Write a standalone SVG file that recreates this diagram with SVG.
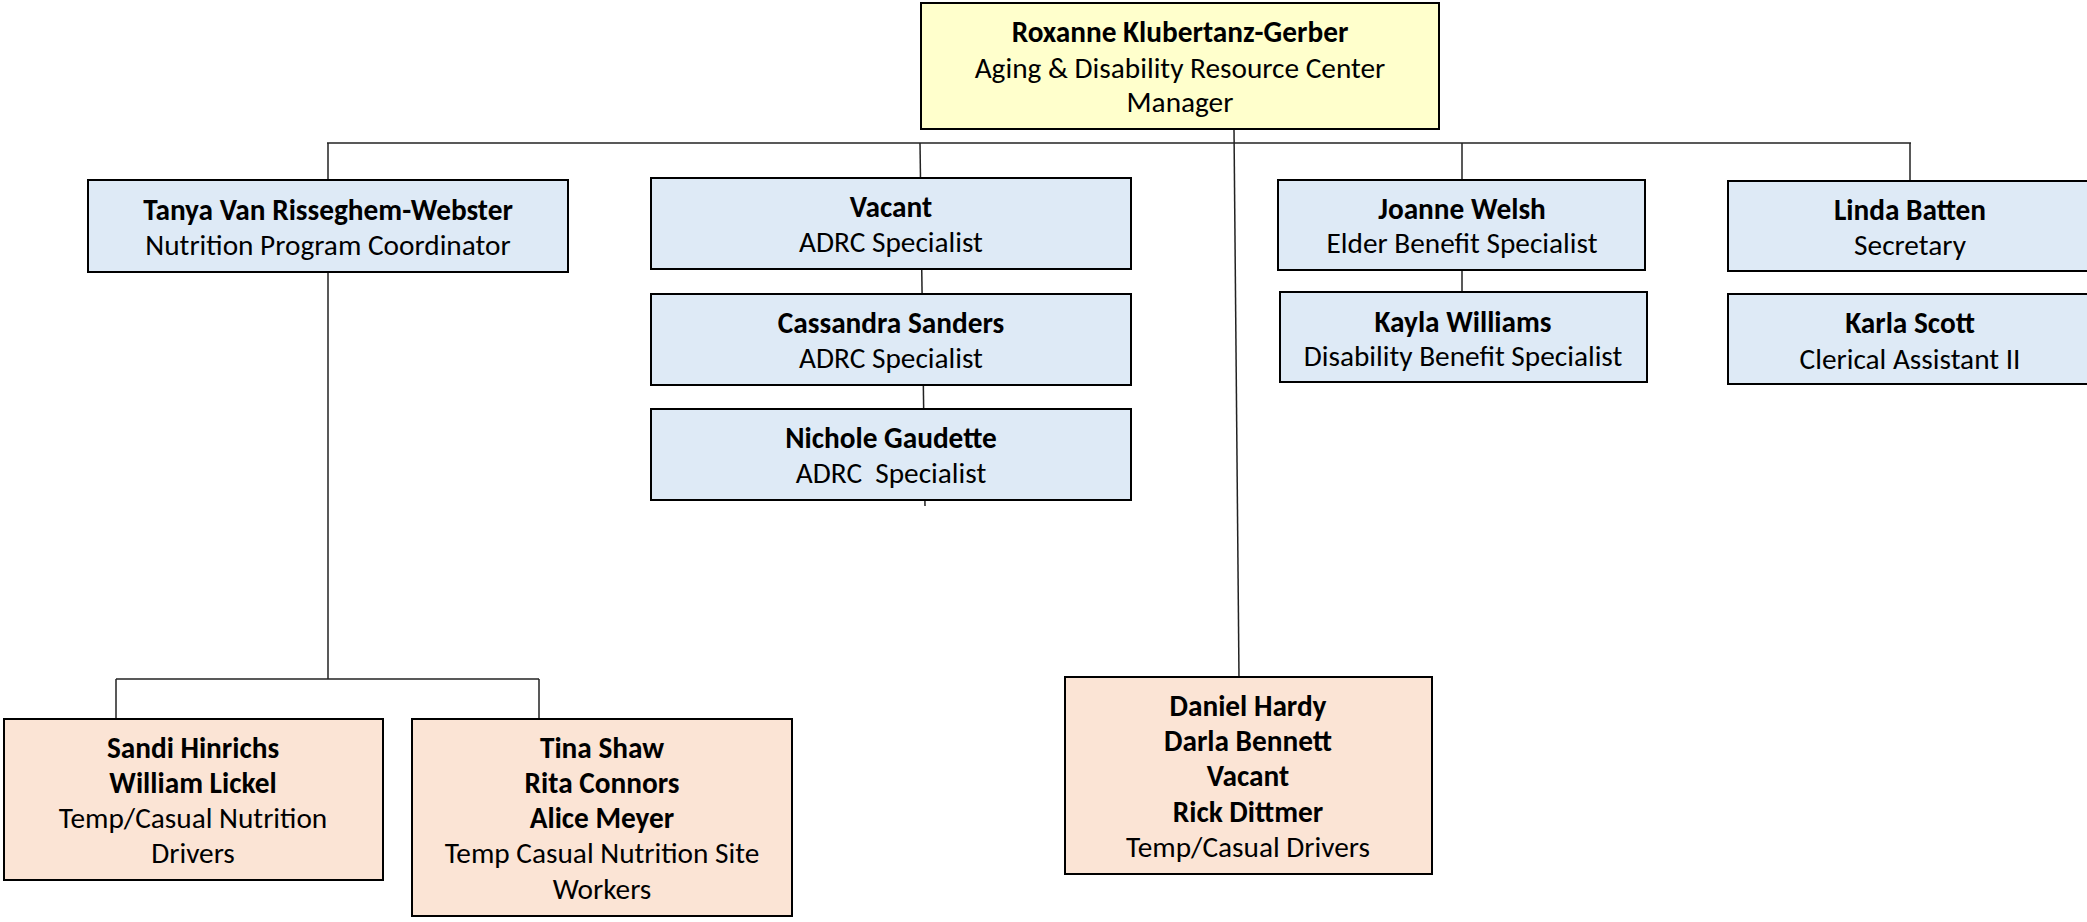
<svg xmlns="http://www.w3.org/2000/svg" width="2087" height="922" viewBox="0 0 2087 922">
  <style>
    .box { stroke: #000; stroke-width: 2; }
    .mgr { fill: #FFFFCC; }
    .staff { fill: #DEEAF6; }
    .temp { fill: #FBE4D5; }
    .wire { stroke: #222; stroke-width: 1.5; fill: none; }
    text { font-family: Carlito, Lato, "Liberation Sans", sans-serif; font-size: 29.3px; fill: #000; text-anchor: middle; }
    .b { font-weight: bold; }
  </style>
  <rect width="2087" height="922" fill="#fff"/>

  <!-- reporting lines -->
  <g id="connectors">
    <line class="wire" x1="327" y1="143" x2="1911" y2="143"/>
    <line class="wire" x1="1234" y1="129" x2="1239" y2="677"/>
    <line class="wire" x1="328" y1="143" x2="328" y2="180"/>
    <line class="wire" x1="920" y1="143" x2="925" y2="506"/>
    <line class="wire" x1="1462" y1="143" x2="1462" y2="292"/>
    <line class="wire" x1="1910" y1="143" x2="1910" y2="181"/>
    <line class="wire" x1="328" y1="272" x2="328" y2="679"/>
    <line class="wire" x1="116" y1="679" x2="539" y2="679"/>
    <line class="wire" x1="116" y1="679" x2="116" y2="719"/>
    <line class="wire" x1="539" y1="679" x2="539" y2="719"/>
  </g>

  <g id="manager">
    <rect class="box mgr" x="921" y="3" width="518" height="126"/>
    <text class="b" x="1180" y="41.5">Roxanne Klubertanz-Gerber</text>
    <text x="1180" y="77.5">Aging &amp; Disability Resource Center</text>
    <text x="1180" y="111.5">Manager</text>
  </g>

  <g id="nutrition-coordinator">
    <rect class="box staff" x="88" y="180" width="480" height="92"/>
    <text class="b" x="328" y="219.5">Tanya Van Risseghem-Webster</text>
    <text x="328" y="254.5">Nutrition Program Coordinator</text>
  </g>

  <g id="adrc-vacant">
    <rect class="box staff" x="651" y="178" width="480" height="91"/>
    <text class="b" x="891" y="216.5">Vacant</text>
    <text x="891" y="251.5">ADRC Specialist</text>
  </g>

  <g id="adrc-sanders">
    <rect class="box staff" x="651" y="294" width="480" height="91"/>
    <text class="b" x="891" y="332.5">Cassandra Sanders</text>
    <text x="891" y="367.5">ADRC Specialist</text>
  </g>

  <g id="adrc-gaudette">
    <rect class="box staff" x="651" y="409" width="480" height="91"/>
    <text class="b" x="891" y="447.5">Nichole Gaudette</text>
    <text x="891" y="482.5" xml:space="preserve">ADRC  Specialist</text>
  </g>

  <g id="elder-benefit">
    <rect class="box staff" x="1278" y="180" width="367" height="90"/>
    <text class="b" x="1462" y="218.5">Joanne Welsh</text>
    <text x="1462" y="252.5">Elder Benefit Specialist</text>
  </g>

  <g id="disability-benefit">
    <rect class="box staff" x="1280" y="292" width="367" height="90"/>
    <text class="b" x="1463" y="331.5">Kayla Williams</text>
    <text x="1463" y="365.5">Disability Benefit Specialist</text>
  </g>

  <g id="secretary">
    <rect class="box staff" x="1728" y="181" width="370" height="90"/>
    <text class="b" x="1910" y="219.5">Linda Batten</text>
    <text x="1910" y="254.5">Secretary</text>
  </g>

  <g id="clerical">
    <rect class="box staff" x="1728" y="294" width="370" height="90"/>
    <text class="b" x="1910" y="332.5">Karla Scott</text>
    <text x="1910" y="368.5">Clerical Assistant II</text>
  </g>

  <g id="nutrition-drivers">
    <rect class="box temp" x="4" y="719" width="379" height="161"/>
    <text class="b" x="193" y="757.5">Sandi Hinrichs</text>
    <text class="b" x="193" y="792.5">William Lickel</text>
    <text x="193" y="827.5">Temp/Casual Nutrition</text>
    <text x="193" y="862.5">Drivers</text>
  </g>

  <g id="site-workers">
    <rect class="box temp" x="412" y="719" width="380" height="197"/>
    <text class="b" x="602" y="757.5">Tina Shaw</text>
    <text class="b" x="602" y="792.5">Rita Connors</text>
    <text class="b" x="602" y="827.5">Alice Meyer</text>
    <text x="602" y="862.5">Temp Casual Nutrition Site</text>
    <text x="602" y="898.5">Workers</text>
  </g>

  <g id="temp-drivers">
    <rect class="box temp" x="1065" y="677" width="367" height="197"/>
    <text class="b" x="1248" y="715.5">Daniel Hardy</text>
    <text class="b" x="1248" y="750.5">Darla Bennett</text>
    <text class="b" x="1248" y="785.5">Vacant</text>
    <text class="b" x="1248" y="821.5">Rick Dittmer</text>
    <text x="1248" y="856.5">Temp/Casual Drivers</text>
  </g>
</svg>
